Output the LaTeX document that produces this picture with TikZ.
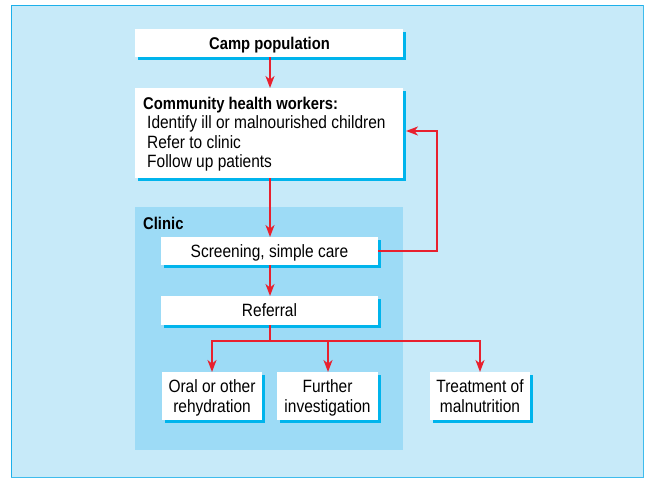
\documentclass[tikz,border=0pt]{standalone}
\usepackage{fontspec}
\setmainfont{Liberation Sans}[FakeStretch=0.87]
\usetikzlibrary{arrows.meta}
\definecolor{bgblue}{HTML}{C7EAF9}
\definecolor{clinicblue}{HTML}{9DDBF6}
\definecolor{shadowcyan}{HTML}{00B4EC}
\definecolor{framecyan}{HTML}{1DB0EA}
\definecolor{arrowred}{HTML}{E8202E}
\tikzset{
  px/.style={x=1pt,y=-1pt},
  wbox/.style={draw=none,fill=white,inner sep=0pt,outer sep=0pt,
    preaction={fill=shadowcyan,transform canvas={xshift=3pt,yshift=-3pt}}},
  arr/.style={draw=arrowred,line width=1.8pt,-{Stealth[length=12pt,width=9pt,inset=3.5pt]}},
  ln/.style={draw=arrowred,line width=1.8pt},
  txt/.style={font=\fontsize{17.8}{20}\selectfont,align=center,inner sep=0pt},
  btxt/.style={font=\fontsize{17}{20}\selectfont\bfseries,inner sep=0pt},
}
\begin{document}
\begin{tikzpicture}[px]
\useasboundingbox (0,0) rectangle (648,479);
\fill[white] (0,0) rectangle (648,479);
% outer panel
\fill[bgblue] (11,5) rectangle (644,478);
\draw[framecyan,line width=1.4pt] (11.7,478) -- (11.7,5.7) -- (644,5.7);
\draw[framecyan!85,line width=1.4pt] (11,477.3) -- (643.3,477.3) -- (643.3,5);
% clinic region
\fill[clinicblue] (135,207) rectangle (403,450);
\node[btxt,anchor=base west] (cliniclbl) at (143,229) {Clinic};
% boxes
\path[wbox] (135,29) rectangle (403,57);
\node[btxt,anchor=base] (camp) at (269.5,49) {Camp population};
\path[wbox] (135,88) rectangle (403,178);
\node[btxt,anchor=base west] (chwhead) at (143,109) {Community health workers:};
\node[txt,anchor=base west] (chw1) at (147,128.5) {Identify ill or malnourished children};
\node[txt,anchor=base west] (chw2) at (147,148) {Refer to clinic};
\node[txt,anchor=base west] (chw3) at (147,167.5) {Follow up patients};
\path[wbox] (161,237) rectangle (378,265);
\node[txt,anchor=base] (screen) at (269.5,257) {Screening, simple care};
\path[wbox] (161,296) rectangle (378,325);
\node[txt,anchor=base] (refer) at (269.5,316) {Referral};
\path[wbox] (162,372) rectangle (262,420);
\node[txt,anchor=base] (oral) at (212,392) {Oral or other};
\node[txt,anchor=base] (oral2) at (212,412) {rehydration};
\path[wbox] (277,372) rectangle (378,420);
\node[txt,anchor=base] (further) at (327.5,392) {Further};
\node[txt,anchor=base] (further2) at (327.5,412) {investigation};
\path[wbox] (430,372) rectangle (530,420);
\node[txt,anchor=base] (treat) at (480,392) {Treatment of};
\node[txt,anchor=base] (treat2) at (480,412) {malnutrition};
% anchors for connectors
\coordinate (campB) at (270,57);
\coordinate (chwT) at (270,88);
\coordinate (chwB) at (270,178);
\coordinate (chwR) at (406,131);
\coordinate (scrT) at (270,237);
\coordinate (scrB) at (270,265);
\coordinate (scrR) at (378,251);
\coordinate (refT) at (270,296);
\coordinate (refB) at (270,325);
\coordinate (bus) at (270,341);
\coordinate (oralT) at (212,372);
\coordinate (furT) at (328,372);
\coordinate (treT) at (480,372);
% connectors
\draw[arr] (campB) -- (chwT);
\draw[arr] (chwB) -- (scrT);
\draw[arr] (scrB) -- (refT);
\draw[arr] (scrR) -- (437,251) -- (437,131) -- (chwR);
\draw[ln] (refB) -- (bus);
\draw[arr] (bus) -| (oralT);
\draw[arr] (bus) -| (treT);
\draw[arr] (328,341) -- (furT);
\end{tikzpicture}
\end{document}
